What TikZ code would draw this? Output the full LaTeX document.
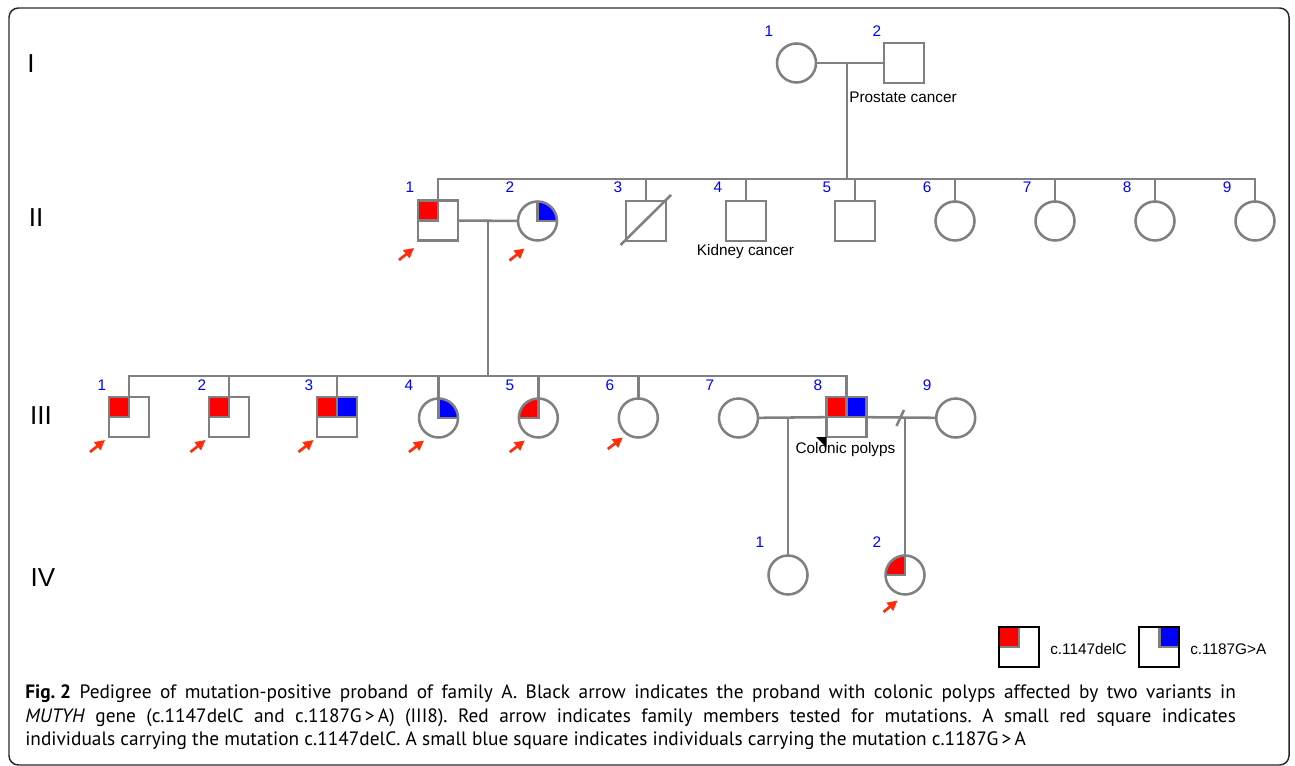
\documentclass[tikz,border=0pt]{standalone}
\usepackage{fontspec}
\setmainfont{Liberation Sans}
\newfontfamily\capfont{PT Sans}
\usetikzlibrary{arrows.meta}
\definecolor{pgray}{RGB}{128,128,128}
\definecolor{pred}{RGB}{255,0,0}
\definecolor{pblue}{RGB}{0,0,255}
\definecolor{arrred}{RGB}{255,45,10}
\definecolor{framec}{RGB}{40,40,40}
\frenchspacing
\begin{document}
\begin{tikzpicture}[x=0.75pt,y=-0.75pt,
 person/.style={draw=pgray,line width=1.9pt,fill=white,outer sep=0pt,inner sep=0pt},
 male/.style={person,rectangle,minimum size=30pt},
 female/.style={person,circle,minimum size=29.25pt},
 line/.style={draw=pgray,line width=1.9pt},
 num/.style={text=pblue,font=\fontsize{11.5}{13}\selectfont},
 lbl/.style={font=\fontsize{11.5}{13}\selectfont},
 gen/.style={font=\fontsize{19.5}{22}\selectfont},
 tested/.style={draw=arrred,line width=2pt,-{Triangle[length=7.5pt,width=7.5pt]}},
 qred/.style={path picture={\fill[pred] (path picture bounding box.north west) rectangle (path picture bounding box.center);
   \draw[pgray,line width=1.9pt] (path picture bounding box.north) -- (path picture bounding box.center) -- (path picture bounding box.west);}},
 qblue/.style={path picture={\fill[pblue] (path picture bounding box.north east) rectangle (path picture bounding box.center);
   \draw[pgray,line width=1.9pt] (path picture bounding box.north) -- (path picture bounding box.center) -- (path picture bounding box.east);}},
 qboth/.style={path picture={\fill[pred] (path picture bounding box.north west) rectangle (path picture bounding box.center);
   \fill[pblue] (path picture bounding box.north east) rectangle (path picture bounding box.center);
   \draw[pgray,line width=1.9pt] (path picture bounding box.north) -- (path picture bounding box.center);
   \draw[pgray,line width=1.9pt] (path picture bounding box.west) -- (path picture bounding box.east);}},
 legbox/.style={draw=black,line width=1.6pt,fill=white,rectangle,minimum size=30pt,outer sep=0pt,inner sep=0pt},
 captext/.style={anchor=west,inner sep=0pt,font=\capfont\fontsize{14.5}{17}\selectfont}
]
\useasboundingbox (0,0) rectangle (1295,766);
\fill[white] (0,0) rectangle (1295,766);
\draw[framec,line width=1.1pt,rounded corners=7pt] (9,8) rectangle (1289,765);

% generation numerals
\node[gen] (gI) at (31,64) {I};
\node[gen] (gII) at (36,218) {II};
\node[gen] (gIII) at (41,416) {III};
\node[gen] (gIV) at (43,578) {IV};

% generation I
\node[female] (I1) at (796.5,63) {};
\node[male] (I2) at (904,63) {};
\node[num] (nI1) at (769,31) {1};
\node[num] (nI2) at (877,31) {2};
\node[lbl] (tI2) at (903,97) {Prostate cancer};
\coordinate (mI) at (847,63);
\coordinate (sII) at (847,179);
\draw[line] (I1) -- (I2);
\draw[line] (mI) -- (sII);

% generation II
\node[male,qred] (II1) at (438,220.5) {};
\node[female,qblue] (II2) at (537.5,221) {};
\node[male] (II3) at (646,221) {};
\node[male] (II4) at (746,221) {};
\node[male] (II5) at (855,221) {};
\node[female] (II6) at (955,221) {};
\node[female] (II7) at (1055,221) {};
\node[female] (II8) at (1155,221) {};
\node[female] (II9) at (1255,221) {};
\draw[line] (II1.north) |- (sII);
\draw[line] (II9.north) |- (sII);
\foreach \k in {3,...,8}{\draw[line] (II\k.north) -- (II\k.north |- sII);}
\draw[pgray,line width=1.9pt] (II3.center) ++(-25.5,24) -- ++(50.5,-50);
\node[num] (nII1) at (410,187) {1};
\node[num] (nII2) at (510,187) {2};
\node[num] (nII3) at (618,187) {3};
\node[num] (nII4) at (718,187) {4};
\node[num] (nII5) at (827,187) {5};
\node[num] (nII6) at (927,187) {6};
\node[num] (nII7) at (1027,187) {7};
\node[num] (nII8) at (1127,187) {8};
\node[num] (nII9) at (1227,187) {9};
\node[lbl] (tII4) at (745.5,252) {Kidney cancer};
\coordinate (mII) at (488,221);
\coordinate (sIII) at (488,376);
\draw[line] (II1) -- (II2);
\draw[line] (mII) -- (sIII);
\draw[tested] (II1.center) ++(-39,39.5) -- ++(15,-12);
\draw[tested] (II2.center) ++(-28,39.5) -- ++(15,-12);

% generation III
\node[male,qred] (III1) at (129,417) {};
\node[male,qred] (III2) at (229,417) {};
\node[male,qboth] (III3) at (337,417) {};
\node[female,qblue] (III4) at (438.5,418) {};
\node[female,qred] (III5) at (538.3,418) {};
\node[female] (III6) at (638.3,418) {};
\node[female] (III7) at (738.5,418) {};
\node[male,qboth] (III8) at (846.5,417) {};
\node[female] (III9) at (955.7,418) {};
\draw[line] (III1.north) |- (sIII);
\draw[line] (III8.north) |- (sIII);
\foreach \k in {2,...,6}{\draw[line] (III\k.north) -- (III\k.north |- sIII);}
\node[num] (nIII1) at (102,385) {1};
\node[num] (nIII2) at (202,385) {2};
\node[num] (nIII3) at (309,385) {3};
\node[num] (nIII4) at (409,385) {4};
\node[num] (nIII5) at (510,385) {5};
\node[num] (nIII6) at (610,385) {6};
\node[num] (nIII7) at (710,385) {7};
\node[num] (nIII8) at (818,385) {8};
\node[num] (nIII9) at (927,385) {9};
\draw[tested] (III1.center) ++(-39,35) -- ++(15,-12);
\draw[tested] (III2.center) ++(-38.5,35) -- ++(15,-12);
\draw[tested] (III3.center) ++(-38.5,35) -- ++(15,-12);
\draw[tested] (III4.center) ++(-29.5,34) -- ++(15,-11.5);
\draw[tested] (III5.center) ++(-28.5,34) -- ++(15,-11.5);
\draw[tested] (III6.center) ++(-30.5,31) -- ++(15,-11.5);
\draw[line] (III7) -- (III8);
\draw[line] (III8) -- (III9);
\draw[pgray,line width=1.9pt] (896.5,426) -- (904,410);
\fill[black] (III8.south west) -- ++(-10.5,0) -- ++(10.5,10.5) -- cycle;
\node[lbl] (tIII8) at (845.5,450) {Colonic polyps};
\coordinate (mIIIa) at (788,418);
\coordinate (mIIIb) at (905,418);

% generation IV
\node[female] (IV1) at (788,575) {};
\node[female,qred] (IV2) at (905,575) {};
\node[num] (nIV1) at (760,542) {1};
\node[num] (nIV2) at (877,542) {2};
\draw[line] (mIIIa) -- (IV1);
\draw[line] (mIIIb) -- (IV2);
\draw[tested] (IV2.center) ++(-21.5,37) -- ++(14,-11.5);

% legend
\node[legbox,qred] (L1) at (1019,647) {};
\node[legbox,qblue] (L2) at (1159.3,647) {};
\node[lbl,anchor=west,inner sep=0pt] (tL1) at (1050,649) {c.1147delC};
\node[lbl,anchor=west,inner sep=0pt] (tL2) at (1190,649) {c.1187G>A};

% caption (justified lines 1-2)
\node[captext] (cap1) at (25,694) {\makebox[908pt][s]{\textbf{Fig.\hspace{0.25em}2} Pedigree of mutation-positive proband of family A. Black arrow indicates the proband with colonic polyps affected by two variants in}};
\node[captext] (cap2) at (25,718) {\makebox[908pt][s]{\textit{MUTYH} gene (c.1147delC and c.1187G\,>\,A) (III8). Red arrow indicates family members tested for mutations. A small red square indicates}};
\node[captext] (cap3) at (25,741) {individuals carrying the mutation c.1147delC. A small blue square indicates individuals carrying the mutation c.1187G\,>\,A};
\end{tikzpicture}
\end{document}
